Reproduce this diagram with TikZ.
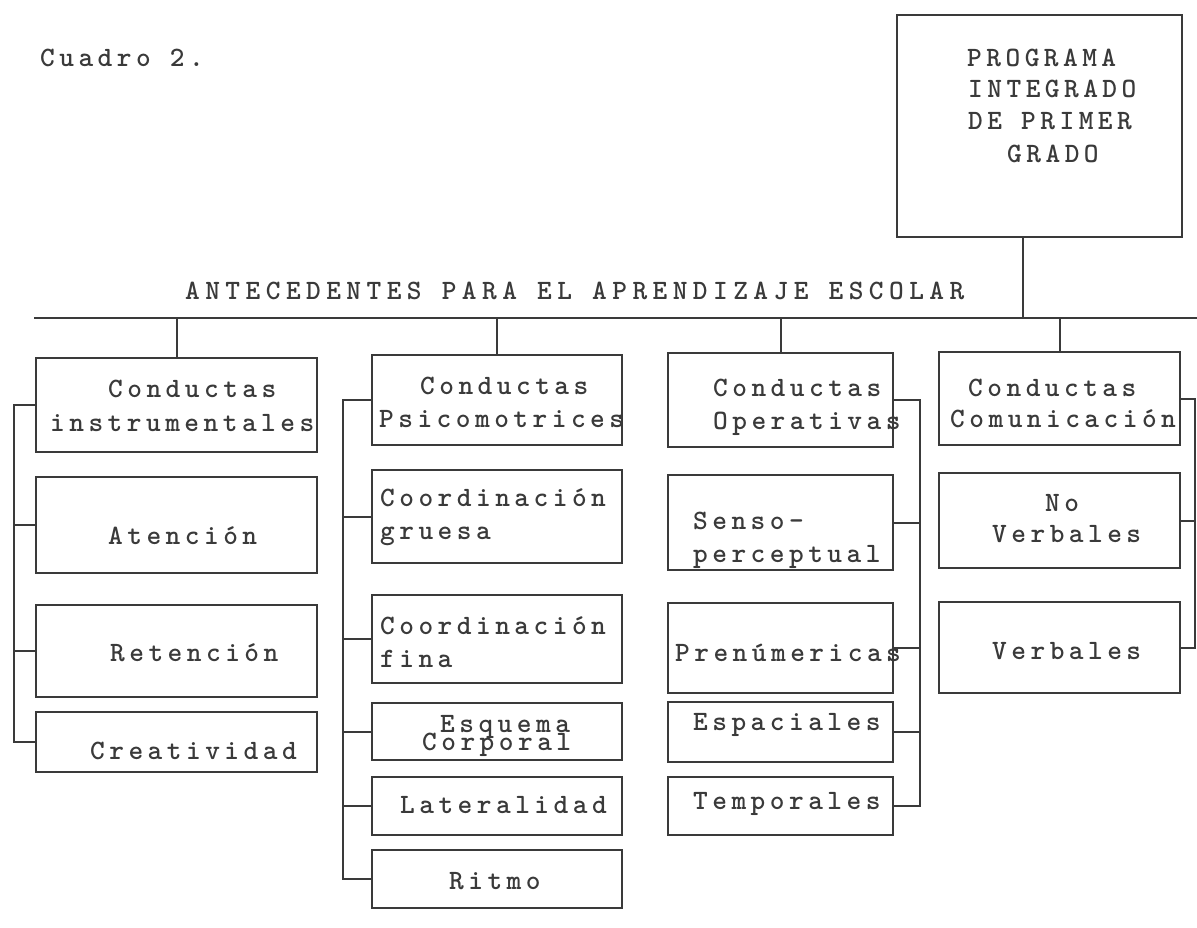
\documentclass[tikz,border=0pt]{standalone}
\usepackage{fontspec}
\setmonofont{lmmonolt10-bold.otf}[LetterSpace=16]
\usetikzlibrary{calc}
\definecolor{ink}{HTML}{3A3A3A}
\tikzset{
  box/.style={draw=ink, line width=2pt, inner sep=0pt, fill=none},
  txt/.style={inner sep=0pt, anchor=base west, text=ink, font=\twfont},
  link/.style={draw=ink, line width=2pt, line cap=rect},
}
\newcommand{\twfont}{\fontsize{28}{30}\ttfamily\selectfont}
\begin{document}
\begin{tikzpicture}[x=1pt,y=-1pt]
\useasboundingbox (0,0) rectangle (1197,927);
% top box
\node[box, minimum width=285, minimum height=222] (top) at (1039.5,126) {};
\node[txt] (tp1) at (967,66) {PROGRAMA};
\node[txt] (tp2) at (968,97) {INTEGRADO};
\node[txt] (tp3) at (968,129) {DE PRIMER};
\node[txt] (tp4) at (1007,162) {GRADO};
\node[txt] (cuadro) at (40,66) {Cuadro 2.};
\node[txt] (title) at (185,299) {\addfontfeatures{LetterSpace=19.5}ANTECEDENTES PARA EL APRENDIZAJE ESCOLAR};
% main line
\coordinate (L) at (35,318);
\coordinate (R) at (1197,318);
\draw[link] (L) -- (R);
\coordinate (topdrop) at (1023,237);
\draw[link] (topdrop) -- (topdrop |- L);
% column 1
\node[box, minimum width=281, minimum height=94] (A1) at (176.5,405) {};
\node[box, minimum width=281, minimum height=96] (A2) at (176.5,525) {};
\node[box, minimum width=281, minimum height=92] (A3) at (176.5,651) {};
\node[box, minimum width=281, minimum height=60] (A4) at (176.5,742) {};
\node[txt] (ta1) at (108,397) {Conductas};
\node[txt] (ta2) at (50,431) {instrumentales};
\node[txt] (ta3) at (108,544) {Atención};
\node[txt] (ta4) at (110,661) {Retención};
\node[txt] (ta5) at (90,759) {Creatividad};
\coordinate (barA) at (14,0);
\draw[link] (A1.west) -- (A1.west -| barA) -- (A4.west -| barA) -- (A4.west);
\draw[link] (A2.west) -- (A2.west -| barA);
\draw[link] (A3.west) -- (A3.west -| barA);
\draw[link] (A1.north) -- (A1.north |- L);
% column 2
\node[box, minimum width=250, minimum height=90] (B1) at (497,400) {};
\node[box, minimum width=250, minimum height=93] (B2) at (497,516.5) {};
\node[box, minimum width=250, minimum height=88] (B3) at (497,639) {};
\node[box, minimum width=250, minimum height=57] (B4) at (497,731.5) {};
\node[box, minimum width=250, minimum height=58] (B5) at (497,806) {};
\node[box, minimum width=250, minimum height=58] (B6) at (497,879) {};
\node[txt] (tb1) at (420,394) {Conductas};
\node[txt] (tb2) at (379,427) {Psicomotrices};
\node[txt] (tb3) at (380,506) {Coordinación};
\node[txt] (tb4) at (380,539) {gruesa};
\node[txt] (tb5) at (380,634) {Coordinación};
\node[txt] (tb6) at (380,667) {fina};
\node[txt] (tb7) at (440,732) {Esquema};
\node[txt] (tb8) at (422,750) {Corporal};
\node[txt] (tb9) at (400,813) {Lateralidad};
\node[txt] (tb10) at (449,889) {Ritmo};
\coordinate (barB) at (343,0);
\draw[link] (B1.west) -- (B1.west -| barB) -- (B6.west -| barB) -- (B6.west);
\foreach \n in {B2,B3,B4,B5} \draw[link] (\n.west) -- (\n.west -| barB);
\draw[link] (B1.north) -- (B1.north |- L);
% column 3
\node[box, minimum width=225, minimum height=94] (C1) at (780.5,400) {};
\node[box, minimum width=225, minimum height=95] (C2) at (780.5,522.5) {};
\node[box, minimum width=225, minimum height=90] (C3) at (780.5,648) {};
\node[box, minimum width=225, minimum height=60] (C4) at (780.5,732) {};
\node[box, minimum width=225, minimum height=58] (C5) at (780.5,806) {};
\node[txt] (tc1) at (713,396) {Conductas};
\node[txt] (tc2) at (713,429) {Operativas};
\node[txt] (tc3) at (693,529) {Senso-};
\node[txt] (tc4) at (693,562) {perceptual};
\node[txt] (tc5) at (675,661) {Prenúmericas};
\node[txt] (tc6) at (693,730) {Espaciales};
\node[txt] (tc7) at (693,809) {Temporales};
\coordinate (barC) at (920,0);
\draw[link] (C1.east) -- (C1.east -| barC) -- (C5.east -| barC) -- (C5.east);
\foreach \n in {C2,C3,C4} \draw[link] (\n.east) -- (\n.east -| barC);
\draw[link] (C1.north) -- (C1.north |- L);
% column 4
\node[box, minimum width=241, minimum height=93] (D1) at (1059.5,398.5) {};
\node[box, minimum width=241, minimum height=95] (D2) at (1059.5,520.5) {};
\node[box, minimum width=241, minimum height=91] (D3) at (1059.5,647.5) {};
\node[txt] (td1) at (968,396) {Conductas};
\node[txt] (td2) at (950,427) {Comunicación};
\node[txt] (td3) at (1045,511) {No};
\node[txt] (td4) at (992,542) {Verbales};
\node[txt] (td5) at (992,659) {Verbales};
\coordinate (barD) at (1195,0);
\draw[link] (D1.east) -- (D1.east -| barD) -- (D3.east -| barD) -- (D3.east);
\draw[link] (D2.east) -- (D2.east -| barD);
\draw[link] (D1.north) -- (D1.north |- L);
\end{tikzpicture}
\end{document}
